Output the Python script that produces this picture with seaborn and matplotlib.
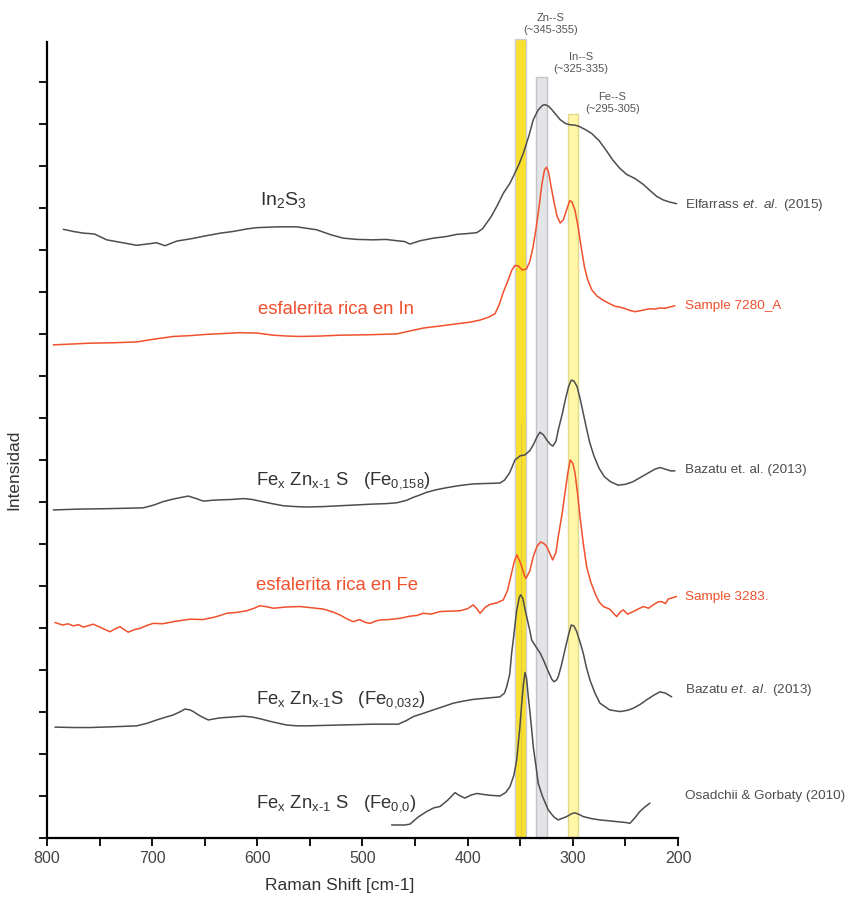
import matplotlib
matplotlib.use("Agg")
import matplotlib.pyplot as plt
import seaborn as sns
from matplotlib.ticker import MultipleLocator

# In2S3 - Elfarrass et. al. (2015)
in2s3_shift = [784.5, 775.0, 765.5, 755.0, 743.2, 730.0, 714.7, 705.0, 695.7, 687.8, 676.7, 662.0,
               648.2, 635.0, 622.9, 610.0, 600.6, 580.0, 562.6, 543.6, 530.0, 518.3, 505.0, 489.8,
               478.0, 467.5, 460.0, 454.9, 445.0, 432.7, 420.0, 410.5, 400.0, 391.4, 386.0, 382.0,
               378.0, 372.0, 366.1, 360.0, 356.6, 351.0, 347.1, 342.0, 337.6, 333.0, 329.0, 326.5,
               323.0, 320.0, 316.0, 312.0, 307.0, 302.7, 298.0, 294.0, 288.5, 282.0, 275.0, 268.0,
               262.0, 256.0, 249.0, 241.0, 233.0, 226.0, 220.0, 214.0, 208.0, 201.3]
in2s3_int = [14.49, 14.44, 14.40, 14.38, 14.24, 14.18, 14.11, 14.14, 14.17, 14.10, 14.21, 14.27,
             14.34, 14.40, 14.44, 14.50, 14.53, 14.55, 14.55, 14.48, 14.36, 14.28, 14.25, 14.24,
             14.25, 14.22, 14.20, 14.14, 14.22, 14.28, 14.32, 14.37, 14.39, 14.41, 14.50, 14.64,
             14.78, 15.05, 15.35, 15.58, 15.75, 16.05, 16.30, 16.70, 17.10, 17.33, 17.44, 17.46,
             17.42, 17.34, 17.22, 17.10, 17.01, 16.98, 16.97, 16.94, 16.87, 16.77, 16.60, 16.36,
             16.14, 15.96, 15.80, 15.70, 15.56, 15.40, 15.27, 15.19, 15.14, 15.10]

# esfalerita rica en In - Sample 7280_A
s7280_shift = [794.0, 776.0, 759.1, 737.0, 714.7, 697.0, 679.9, 664.0, 648.2, 632.0, 616.5, 600.0,
               584.8, 572.0, 559.4, 540.0, 521.4, 495.0, 467.5, 455.0, 442.2, 426.0, 410.5, 398.0,
               388.3, 380.0, 374.0, 370.0, 366.0, 362.0, 358.0, 355.0, 352.0, 348.0, 344.0, 341.0,
               338.0, 335.0, 332.0, 329.5, 327.0, 325.0, 323.0, 321.0, 318.0, 315.0, 312.0, 309.0,
               306.0, 303.0, 301.0, 298.0, 295.0, 292.0, 289.0, 286.0, 282.0, 277.0, 271.0, 265.0,
               260.0, 255.3, 250.0, 246.0, 241.0, 236.3, 231.0, 226.0, 222.0, 217.0, 212.5, 208.0,
               203.0]
s7280_int = [11.74, 11.76, 11.78, 11.79, 11.81, 11.88, 11.94, 11.96, 11.99, 12.01, 12.03, 12.02,
             11.97, 11.95, 11.94, 11.95, 11.97, 11.98, 12.00, 12.07, 12.14, 12.19, 12.24, 12.28,
             12.33, 12.40, 12.48, 12.70, 13.00, 13.25, 13.52, 13.63, 13.62, 13.52, 13.55, 13.72,
             14.05, 14.50, 15.05, 15.55, 15.90, 15.97, 15.85, 15.55, 15.15, 14.80, 14.64, 14.72,
             14.95, 15.17, 15.15, 14.95, 14.55, 14.05, 13.60, 13.30, 13.05, 12.90, 12.80, 12.72,
             12.66, 12.64, 12.60, 12.56, 12.53, 12.55, 12.58, 12.60, 12.59, 12.62, 12.61, 12.64,
             12.67]

# Fe0.158 - Bazatu et. al. (2013)
fe158_shift = [794.0, 770.0, 743.2, 725.0, 708.4, 698.0, 689.4, 678.0, 665.7, 658.0, 651.4, 643.0,
               635.5, 624.0, 613.4, 605.0, 597.5, 586.0, 575.3, 564.0, 553.1, 537.0, 521.4, 505.0,
               489.8, 478.0, 467.5, 458.0, 451.7, 445.0, 439.0, 430.0, 420.0, 408.0, 394.7, 382.0,
               369.3, 365.0, 360.0, 355.0, 350.0, 345.5, 341.0, 337.6, 334.0, 331.3, 328.0, 324.9,
               321.0, 319.0, 316.0, 313.9, 310.0, 307.0, 304.0, 301.5, 299.0, 296.0, 293.0, 290.0,
               287.0, 284.0, 280.0, 275.0, 270.0, 264.0, 257.0, 250.0, 243.0, 236.0, 229.0, 222.0,
               217.0, 212.0, 207.0, 202.9]
fe158_int = [7.81, 7.83, 7.84, 7.85, 7.86, 7.93, 8.01, 8.08, 8.14, 8.08, 8.02, 8.04,
             8.05, 8.06, 8.08, 8.06, 8.02, 7.96, 7.91, 7.89, 7.88, 7.89, 7.91, 7.93,
             7.95, 7.96, 7.98, 8.04, 8.11, 8.17, 8.23, 8.29, 8.34, 8.39, 8.43, 8.44,
             8.45, 8.52, 8.70, 9.00, 9.10, 9.12, 9.22, 9.36, 9.55, 9.66, 9.60, 9.48,
             9.36, 9.33, 9.45, 9.71, 10.10, 10.45, 10.75, 10.90, 10.88, 10.75, 10.45, 10.10,
             9.75, 9.42, 9.10, 8.80, 8.60, 8.48, 8.40, 8.42, 8.48, 8.58, 8.68, 8.78,
             8.82, 8.78, 8.74, 8.74]

# esfalerita rica en Fe - Sample 3283.
s3283_shift = [792.4, 785.0, 780.0, 775.0, 770.0, 765.5, 760.0, 756.0, 748.0, 740.1, 735.0, 730.6,
               726.0, 722.7, 717.0, 711.6, 705.0, 698.9, 690.0, 679.9, 672.0, 664.0, 652.0, 641.9,
               635.0, 629.1, 620.0, 610.1, 603.0, 597.5, 590.0, 584.8, 572.0, 559.4, 548.0, 537.3,
               528.0, 521.4, 515.0, 508.8, 503.0, 497.0, 492.9, 488.0, 483.4, 475.0, 464.4, 455.0,
               448.0, 442.2, 435.0, 426.3, 418.0, 407.3, 400.0, 394.7, 391.0, 388.3, 383.0, 378.8,
               372.0, 366.1, 362.0, 359.8, 356.0, 353.4, 351.0, 348.6, 346.0, 344.6, 341.0, 337.6,
               334.0, 330.6, 327.0, 324.9, 322.0, 319.2, 316.0, 313.9, 310.0, 307.5, 305.0, 302.5,
               300.0, 298.0, 295.5, 293.2, 290.0, 286.9, 283.0, 279.0, 275.0, 271.0, 265.0, 258.3,
               255.0, 252.0, 248.0, 242.5, 238.0, 233.0, 228.0, 223.5, 219.0, 215.5, 212.0, 209.3,
               205.0, 201.3]
s3283_int = [5.13, 5.07, 5.10, 5.05, 5.08, 5.02, 5.06, 5.09, 5.00, 4.91, 4.98, 5.03,
             4.95, 4.90, 4.96, 4.99, 5.06, 5.11, 5.10, 5.15, 5.18, 5.21, 5.20, 5.25,
             5.30, 5.35, 5.37, 5.41, 5.47, 5.53, 5.50, 5.47, 5.50, 5.51, 5.48, 5.45,
             5.38, 5.31, 5.22, 5.15, 5.20, 5.13, 5.11, 5.16, 5.19, 5.20, 5.23, 5.28,
             5.30, 5.35, 5.33, 5.39, 5.40, 5.41, 5.46, 5.55, 5.45, 5.35, 5.50, 5.56,
             5.60, 5.67, 5.90, 6.14, 6.55, 6.74, 6.62, 6.46, 6.25, 6.18, 6.35, 6.70,
             6.95, 7.05, 7.00, 6.94, 6.78, 6.62, 6.80, 7.17, 7.75, 8.21, 8.65, 9.00,
             8.92, 8.70, 8.20, 7.65, 7.00, 6.46, 6.10, 5.83, 5.62, 5.51, 5.45, 5.27,
             5.38, 5.43, 5.33, 5.39, 5.45, 5.51, 5.47, 5.55, 5.62, 5.63, 5.58, 5.69,
             5.72, 5.75]

# Fe0.032 - Bazatu et al. (2013)
fe032_shift = [792.4, 775.0, 759.1, 735.0, 714.7, 705.0, 695.7, 688.0, 679.9, 673.0, 668.8, 664.0,
               660.9, 654.0, 646.6, 640.0, 635.5, 624.0, 613.4, 605.0, 597.5, 585.0, 572.1, 562.0,
               553.1, 537.0, 521.4, 505.0, 489.8, 478.0, 466.0, 458.0, 451.7, 442.0, 432.7, 423.0,
               413.7, 404.0, 394.7, 382.0, 369.3, 365.0, 362.9, 360.0, 358.2, 356.0, 353.5, 351.0,
               349.6, 347.5, 345.5, 343.9, 341.0, 339.1, 335.0, 331.0, 328.0, 324.0, 320.0, 318.0,
               315.5, 313.9, 311.0, 307.5, 304.0, 301.5, 299.0, 296.4, 293.0, 290.1, 287.0, 283.7,
               279.0, 274.2, 265.0, 255.3, 248.0, 242.5, 236.0, 229.8, 223.0, 217.2, 212.0, 206.0]
fe032_int = [2.64, 2.63, 2.63, 2.65, 2.67, 2.73, 2.81, 2.87, 2.93, 3.01, 3.07, 3.05,
             3.01, 2.90, 2.81, 2.84, 2.86, 2.88, 2.90, 2.88, 2.84, 2.76, 2.69, 2.67,
             2.67, 2.68, 2.69, 2.70, 2.71, 2.71, 2.71, 2.80, 2.89, 2.97, 3.05, 3.13,
             3.21, 3.26, 3.30, 3.33, 3.36, 3.45, 3.60, 3.90, 4.40, 4.85, 5.40, 5.72,
             5.79, 5.70, 5.45, 5.27, 4.95, 4.71, 4.55, 4.40, 4.24, 4.00, 3.78, 3.72,
             3.76, 3.84, 4.10, 4.48, 4.85, 5.07, 5.05, 4.92, 4.65, 4.40, 4.05, 3.76,
             3.45, 3.21, 3.05, 3.01, 3.04, 3.09, 3.18, 3.29, 3.40, 3.48, 3.45, 3.36]

# Fe0.0 - Osadchii & Gorbaty (2010)
fe0_shift = [472.3, 460.0, 454.9, 447.0, 439.0, 432.0, 426.3, 419.0, 412.1, 407.0, 402.6, 397.0,
             391.4, 380.0, 369.3, 364.0, 359.8, 356.0, 353.4, 350.5, 348.6, 347.0, 345.5, 344.0,
             342.5, 340.8, 339.0, 337.6, 335.0, 332.9, 329.0, 323.4, 318.0, 313.9, 310.0, 305.9,
             301.0, 298.0, 294.0, 290.1, 282.0, 274.2, 266.0, 258.3, 250.0, 245.7, 241.0, 236.3,
             231.0, 226.7]
fe0_int = [0.31, 0.31, 0.33, 0.50, 0.63, 0.72, 0.75, 0.90, 1.08, 1.00, 0.95, 1.02,
           1.06, 1.02, 1.00, 1.08, 1.22, 1.50, 1.86, 2.60, 3.21, 3.65, 3.94, 3.80,
           3.40, 3.00, 2.55, 2.17, 1.70, 1.30, 1.00, 0.67, 0.50, 0.43, 0.47, 0.51,
           0.58, 0.60, 0.56, 0.51, 0.46, 0.43, 0.41, 0.39, 0.37, 0.35, 0.48, 0.63,
           0.75, 0.83]

# bandas de referencia
band_names = ["Zn--S\n(~345-355)", "In--S\n(~325-335)", "Fe--S\n(~295-305)"]
band_lo = [345, 325, 295]
band_hi = [355, 335, 305]
band_top = [19.02, 18.12, 17.24]

ref_labels = ["Elfarrass $\\mathit{et.}$ $\\mathit{al.}$ (2015)", "Sample 7280_A",
              "Bazatu et. al. (2013)", "Sample 3283.",
              "Bazatu $\\mathit{et.}$ $\\mathit{al.}$ (2013)", "Osadchii & Gorbaty (2010)"]

GRAY = "#4d4d4d"
RED = "#f0502d"

sns.set_style("ticks")
plt.rcParams["font.family"] = ["Liberation Sans", "DejaVu Sans"]
plt.rcParams["mathtext.fontset"] = "custom"
plt.rcParams["mathtext.rm"] = "Liberation Sans"
plt.rcParams["mathtext.it"] = "Liberation Sans:italic"
plt.rcParams["mathtext.bf"] = "Liberation Sans:bold"

fig = plt.figure(figsize=(8.59, 9.09), dpi=100)
ax = fig.add_axes([0.0547, 0.0781, 0.7346, 0.8757])

# bandas
band_face = ["#f9df2e", "#e3e4e8", "#fff6a6"]
band_edge = ["#cfcfcf", "#c4c4c8", "#e2d98f"]
for lo, hi, top, fc, ec in zip(band_lo, band_hi, band_top, band_face, band_edge):
    ax.bar((lo + hi) / 2, top, width=hi - lo, color=fc, edgecolor=ec, linewidth=1.0,
           zorder=1, clip_on=False)
ax.plot([349.6, 349.6], [0, 9.88], color="#b0a860", lw=0.6, ls=(0, (1, 1.5)), zorder=2)

band_text_x = [320.8, 292.3, 262.3]
band_text_y = [19.38, 18.45, 17.50]
for name, tx, ty in zip(band_names, band_text_x, band_text_y):
    ax.text(tx, ty, name, ha="center", va="center", fontsize=8, color="#555555",
            linespacing=1.15)

curves = [
    (in2s3_shift, in2s3_int, GRAY),
    (s7280_shift, s7280_int, RED),
    (fe158_shift, fe158_int, GRAY),
    (s3283_shift, s3283_int, RED),
    (fe032_shift, fe032_int, GRAY),
    (fe0_shift, fe0_int, GRAY),
]
for xs, ys, c in curves:
    sns.lineplot(x=xs, y=ys, color=c, lw=1.1, estimator=None, sort=False, ax=ax, zorder=3)

# etiquetas de las curvas
DARK = "#333333"
ax.text(575.6, 15.19, "In$_2$S$_3$", fontsize=14, color=DARK, ha="center", va="center")
ax.text(525.2, 12.57, "esfalerita rica en In", fontsize=13.3, color=RED, ha="center", va="center")
ax.text(600.8, 8.50, "Fe$_\\mathrm{x}$ Zn$_\\mathrm{x\\text{-}1}$ S   (Fe$_\\mathrm{0{,}158}$)",
        fontsize=13.3, color=DARK, ha="left", va="center")
ax.text(600.8, 6.02, "esfalerita rica en Fe", fontsize=13.3, color=RED, ha="left", va="center")
ax.text(600.8, 3.29, "Fe$_\\mathrm{x}$ Zn$_\\mathrm{x\\text{-}1}$S   (Fe$_\\mathrm{0{,}032}$)",
        fontsize=13.3, color=DARK, ha="left", va="center")
ax.text(600.8, 0.83, "Fe$_\\mathrm{x}$ Zn$_\\mathrm{x\\text{-}1}$ S   (Fe$_\\mathrm{0{,}0}$)",
        fontsize=13.3, color=DARK, ha="left", va="center")

ref_y = [15.07, 12.67, 8.76, 5.74, 3.52, 1.00]
ref_col = [GRAY, RED, GRAY, RED, GRAY, GRAY]
for lab, ly, lc in zip(ref_labels, ref_y, ref_col):
    ax.text(193.0, ly, lab, fontsize=9.7, color=lc, ha="left", va="center", clip_on=False)

ax.set_xlim(800, 200)
ax.set_ylim(0, 18.95)
ax.xaxis.set_major_locator(MultipleLocator(100))
ax.xaxis.set_minor_locator(MultipleLocator(50))
ax.yaxis.set_major_locator(MultipleLocator(1))
ax.set_yticklabels([])
ax.tick_params(axis="both", which="both", direction="out", length=6, width=1.3, color="black")
ax.tick_params(axis="x", labelsize=11.5, labelcolor="#444444", pad=3)
for side in ["top", "right"]:
    ax.spines[side].set_visible(False)
for side in ["left", "bottom"]:
    ax.spines[side].set_linewidth(1.6)
    ax.spines[side].set_color("black")

ax.set_xlabel("Raman Shift [cm-1]", fontsize=12.5, color=DARK)
ax.xaxis.set_label_coords(0.464, -0.05)
ax.set_ylabel("Intensidad", fontsize=12.5, color=DARK)
ax.yaxis.set_label_coords(-0.04, 0.462)

fig.savefig("out.png", dpi=100)
